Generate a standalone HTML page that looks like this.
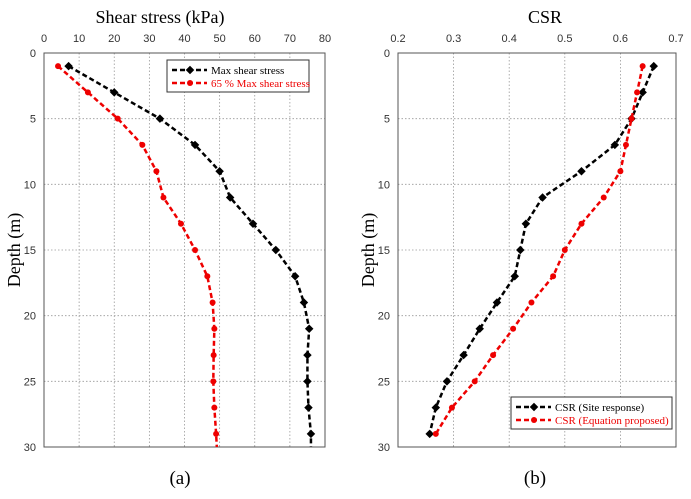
<!DOCTYPE html>
<html><head><meta charset="utf-8"><style>
body{margin:0;background:#fff;}
svg{display:block;}
</style></head><body>
<svg id="chart" width="691" height="499" xmlns="http://www.w3.org/2000/svg"></svg>
<script>
const depths=[1,3,5,7,9,11,13,15,17,19,21,23,25,27,29,30];
const shearMax=[7,20,33,43,50,53,59.5,66,71.5,74,75.5,75,75,75.3,76,76];
const shear65=[4,12.5,21,28,32,34,39,43,46.5,48,48.5,48.3,48.2,48.5,49,49.2];
const csrSite=[0.66,0.64,0.62,0.59,0.53,0.46,0.43,0.42,0.41,0.378,0.347,0.318,0.288,0.268,0.257];
const csrEq=[0.64,0.63,0.62,0.61,0.60,0.57,0.53,0.50,0.479,0.44,0.407,0.371,0.338,0.297,0.268];
const csrDepths=[1,3,5,7,9,11,13,15,17,19,21,23,25,27,29];
const xTicksA=[0,10,20,30,40,50,60,70,80];
const xTicksB=[0.2,0.3,0.4,0.5,0.6,0.7];
const yTicks=[0,5,10,15,20,25,30];

const NS="http://www.w3.org/2000/svg";
const svg=document.getElementById('chart');
function mk(tag,attrs,parent){const e=document.createElementNS(NS,tag);for(const k in attrs)e.setAttribute(k,attrs[k]);(parent||svg).appendChild(e);return e;}
const Y0=53,Y1=447;
const yS=d=>Y0+(Y1-Y0)*d/30;

function panel(name,x0,x1,xmin,xmax,xt,fmt,title,series,titleX){
  const g=mk('g',{});
  
  
  const xS=v=>x0+(x1-x0)*(v-xmin)/(xmax-xmin);
  xt.forEach(v=>{
    const l=mk('line',{x1:xS(v),x2:xS(v),y1:Y0,y2:Y1,stroke:'#999','stroke-width':0.8,'stroke-dasharray':'1.5,2'},g);
    
    
    const t=mk('text',{x:xS(v),y:Y0-11,'text-anchor':'middle','font-size':11,fill:'#333','font-family':'Liberation Sans, sans-serif'},g);
    t.textContent=fmt(v);
    
    
  });
  yTicks.forEach(v=>{
    const l=mk('line',{x1:x0,x2:x1,y1:yS(v),y2:yS(v),stroke:'#999','stroke-width':0.8,'stroke-dasharray':'1.5,2'},g);
    
    
    const t=mk('text',{x:x0-8,y:yS(v)+4,'text-anchor':'end','font-size':11,fill:'#333','font-family':'Liberation Sans, sans-serif'},g);
    t.textContent=v;
    
    
  });
  const r=mk('rect',{x:x0,y:Y0,width:x1-x0,height:Y1-Y0,fill:'none',stroke:'#555','stroke-width':1},g);
  
  
  const tt=mk('text',{x:titleX,y:23,'text-anchor':'middle','font-size':18,fill:'#000','font-family':'Liberation Serif, serif'},g);
  tt.textContent=title;
  
  
  const yt=mk('text',{x:0,y:0,'text-anchor':'middle','font-size':18,fill:'#000','font-family':'Liberation Serif, serif',transform:`translate(${x0-24},250) rotate(-90)`},g);
  yt.textContent='Depth (m)';
  
  
  series.forEach(s=>{
    const pts=s.vals.map((v,i)=>xS(v)+','+yS(s.d[i])).join(' ');
    const pl=mk('polyline',{points:pts,fill:'none',stroke:s.c,'stroke-width':2.5,'stroke-dasharray':'5,3'},g);
    
    
    s.vals.forEach((v,i)=>{
      if(s.d[i]===30)return;
      const m=s.diamond?mk('rect',{x:xS(v)-3,y:yS(s.d[i])-3,width:6,height:6,fill:s.c,transform:`rotate(45 ${xS(v)} ${yS(s.d[i])})`},g):mk('circle',{cx:xS(v),cy:yS(s.d[i]),r:3,fill:s.c},g);
      
      
    });
  });
  return xS;
}
panel('shear-stress-panel',44,325,0,80,xTicksA,v=>v,'Shear stress (kPa)',[
  {vals:shearMax,d:depths,c:'#000',diamond:true,name:'max-shear'},
  {vals:shear65,d:depths,c:'#e00',diamond:false,name:'shear-65'}],160);
panel('csr-panel',398,676,0.2,0.7,xTicksB,v=>v.toFixed(1),'CSR',[
  {vals:csrSite,d:csrDepths,c:'#000',diamond:true,name:'csr-site'},
  {vals:csrEq,d:csrDepths,c:'#e00',diamond:false,name:'csr-eq'}],545);

function legend(name,x,y,w,h,items){
  const g=mk('g',{});
  
  
  mk('rect',{x,y,width:w,height:h,fill:'#fff',stroke:'#333','stroke-width':1},g);
  items.forEach((it,i)=>{
    const yy=y+10+i*13;
    mk('line',{x1:x+5,x2:x+40,y1:yy,y2:yy,stroke:it.c,'stroke-width':2.5,'stroke-dasharray':'5,3'},g);
    if(it.diamond)mk('rect',{x:x+20,y:yy-3,width:6,height:6,fill:it.c,transform:`rotate(45 ${x+23} ${yy})`},g);
    else mk('circle',{cx:x+23,cy:yy,r:3,fill:it.c},g);
    const t=mk('text',{x:x+44,y:yy+4,'font-size':11,fill:it.c,'font-family':'Liberation Serif, serif'},g);
    t.textContent=it.label;
    
    
  });
}
legend('legend-shear',167,60,142,32,[{c:'#000',diamond:true,label:'Max shear stress'},{c:'#e00',label:'65 % Max shear stress'}]);
legend('legend-csr',511,397,161,32,[{c:'#000',diamond:true,label:'CSR (Site response)'},{c:'#e00',label:'CSR (Equation proposed)'}]);

[['(a)',180],['(b)',535]].forEach(([s,x])=>{
  const t=mk('text',{x,y:484,'text-anchor':'middle','font-size':19,fill:'#000','font-family':'Liberation Serif, serif'});
  t.textContent=s;
  
  
});
</script>
</body></html>
